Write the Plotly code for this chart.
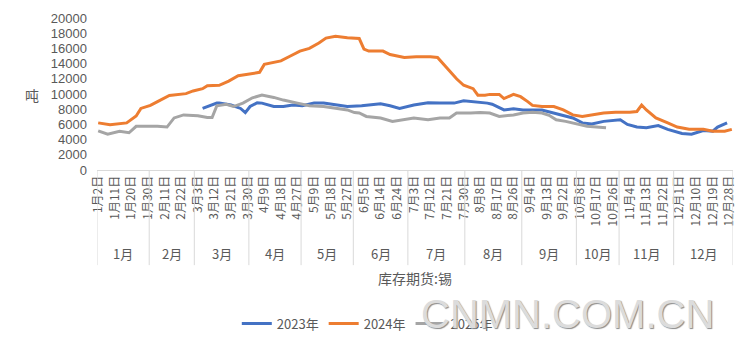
import plotly.graph_objects as go

# ---- data ----
month_names = ["1月", "2月", "3月", "4月", "5月", "6月", "7月", "8月", "9月", "10月", "11月", "12月"]
month_counts = [22, 19, 23, 22, 22, 23, 24, 24, 23, 18, 23, 25]  # trading-day categories per month
tick_labels = ["1月2日", "1月11日", "1月20日", "1月30日", "2月11日", "2月22日", "3月3日", "3月12日",
               "3月21日", "3月30日", "4月9日", "4月18日", "4月27日", "5月9日", "5月18日", "5月27日",
               "6月5日", "6月14日", "6月24日", "7月3日", "7月12日", "7月21日", "7月30日", "8月8日",
               "8月17日", "8月26日", "9月4日", "9月13日", "9月22日", "10月8日", "10月17日", "10月26日",
               "11月4日", "11月13日", "11月22日", "12月1日", "12月10日", "12月19日", "12月28日"]
tick_step = 7

x_2023 = [44, 48, 50, 51, 56, 60, 62, 64, 67, 69, 74, 78, 82, 86, 91, 95, 101, 105, 111, 119, 123, 127,
          133, 139, 144, 150, 154, 160, 164, 166, 171, 175, 179, 187, 192, 196, 200, 204, 208, 213, 218,
          220, 223, 227, 231, 236, 240, 246, 250, 255, 259, 261, 265]
y_2023 = [8100, 8550, 8800, 8800, 8550, 8100, 7550, 8350, 8850, 8800, 8350, 8350, 8550, 8450, 8800, 8800,
          8550, 8350, 8450, 8700, 8450, 8100, 8550, 8850, 8800, 8800, 9100, 8950, 8800, 8650, 7900, 8050,
          7900, 7900, 7500, 7250, 6850, 6200, 6050, 6400, 6500, 6600, 6000, 5650, 5550, 5850, 5350, 4800,
          4700, 5200, 5100, 5650, 6200]

x_2024 = [0, 5, 12, 16, 18, 22, 25, 30, 37, 40, 44, 46, 51, 55, 59, 61, 68, 70, 77, 81, 85, 89, 93, 96,
          100, 105, 110, 112, 114, 120, 123, 126, 129, 134, 140, 143, 145, 148, 151, 154, 158, 160, 163,
          165, 169, 171, 175, 178, 181, 183, 187, 192, 196, 200, 204, 208, 213, 218, 224, 227, 229, 231,
          235, 240, 244, 249, 255, 259, 264, 267]
y_2024 = [6200, 5950, 6200, 7100, 8100, 8500, 9000, 9800, 10050, 10400, 10700, 11100, 11150, 11700, 12400,
          12500, 12850, 13900, 14350, 15000, 15650, 16000, 16700, 17350, 17600, 17400, 17300, 15900, 15650,
          15650, 15200, 15000, 14800, 14900, 14900, 14800, 14150, 13050, 12000, 11150, 10700, 9850, 9850,
          9950, 9950, 9400, 9950, 9650, 9000, 8500, 8350, 8350, 7900, 7250, 7050, 7250, 7500, 7600, 7600,
          7700, 8550, 7900, 6850, 6200, 5650, 5350, 5350, 5100, 5100, 5350]

x_2025 = [0, 4, 9, 13, 16, 25, 29, 32, 36, 42, 46, 48, 50, 54, 57, 61, 65, 69, 74, 78, 84, 89, 95, 101,
          105, 108, 110, 113, 119, 124, 128, 133, 139, 144, 148, 151, 157, 161, 165, 169, 175, 179, 183,
          187, 190, 193, 197, 202, 206, 210, 214]
y_2025 = [5150, 4700, 5100, 4900, 5750, 5750, 5650, 6850, 7250, 7150, 6900, 6900, 8450, 8650, 8350, 8800,
          9500, 9850, 9550, 9200, 8800, 8450, 8350, 8100, 7900, 7550, 7500, 7050, 6850, 6400, 6600, 6850,
          6600, 6850, 6850, 7500, 7500, 7550, 7500, 7050, 7250, 7500, 7600, 7500, 7200, 6600, 6400, 6000,
          5750, 5650, 5550]

series = [("2023年", x_2023, y_2023, "#4472C4"),
          ("2024年", x_2024, y_2024, "#ED7D31"),
          ("2025年", x_2025, y_2025, "#A5A5A5")]

n_cat = sum(month_counts)
FONT = "Noto Sans CJK SC, Noto Sans, sans-serif"
NUMFONT = "Liberation Sans, Arial, sans-serif"
GREY = "#595959"
AXIS = "#D9D9D9"

fig = go.Figure()
for name, xs, ys, col in series:
    fig.add_trace(go.Scatter(x=xs, y=ys, name=name, mode="lines",
                             line=dict(color=col, width=3)))

# month dividers and labels
bottom_div = -0.626
shapes = []
annotations = []
start = 0
bounds = [0]
for m, c in zip(month_names, month_counts):
    end = start + c
    bounds.append(end)
    annotations.append(dict(x=(start + end - 1) / 2, xref="x", y=-0.548, yref="paper",
                            text=m, showarrow=False, font=dict(size=13, color=GREY, family=FONT),
                            xanchor="center", yanchor="middle"))
    start = end
for b in bounds:
    shapes.append(dict(type="line", xref="x", yref="paper", x0=b - 0.5, x1=b - 0.5,
                       y0=0, y1=bottom_div, line=dict(color=AXIS, width=1)))

annotations.append(dict(x=(n_cat - 1) / 2, xref="x", y=-0.71, yref="paper", text="库存期货:锡",
                        showarrow=False, font=dict(size=14, color=GREY, family=FONT),
                        xanchor="center", yanchor="middle"))
annotations.append(dict(x=-0.102, xref="paper", y=0.495, yref="paper", text="吨",
                        showarrow=False, font=dict(size=14, color=GREY, family=FONT),
                        xanchor="center", yanchor="middle"))
annotations.append(dict(x=0.74, xref="paper", y=-0.948, yref="paper", text="CNMN.COM.CN",
                        showarrow=False,
                        font=dict(size=40, color="#DCDCDC", family="Liberation Sans Narrow, Liberation Sans, sans-serif",
                                  shadow="1px 1px 1px #8a8a8a"),
                        xanchor="center", yanchor="middle"))

fig.update_layout(
    width=750, height=350,
    margin=dict(l=97, r=17, t=18, b=177),
    paper_bgcolor="white", plot_bgcolor="white",
    font=dict(family=FONT, color=GREY),
    showlegend=True,
    legend=dict(orientation="h", x=0.425, xanchor="center", y=-1.01, yanchor="middle",
                font=dict(size=13, color=GREY, family=FONT), bgcolor="rgba(0,0,0,0)",
                itemwidth=30),
    shapes=shapes,
    annotations=annotations,
    xaxis=dict(range=[-0.5, n_cat - 0.5], showgrid=False, zeroline=False,
               tickmode="array", tickvals=[i * tick_step for i in range(len(tick_labels))],
               ticktext=tick_labels, tickangle=-90, ticks="",
               tickfont=dict(size=12, color=GREY, family=FONT),
               showline=True, linecolor=AXIS, linewidth=1),
    yaxis=dict(range=[0, 20000], dtick=2000, tickformat="d", showgrid=False, zeroline=False,
               showline=False, ticks="", ticklabelstandoff=9,
               tickfont=dict(size=13, color=GREY, family=NUMFONT)),
)

fig.write_html("out.html")
